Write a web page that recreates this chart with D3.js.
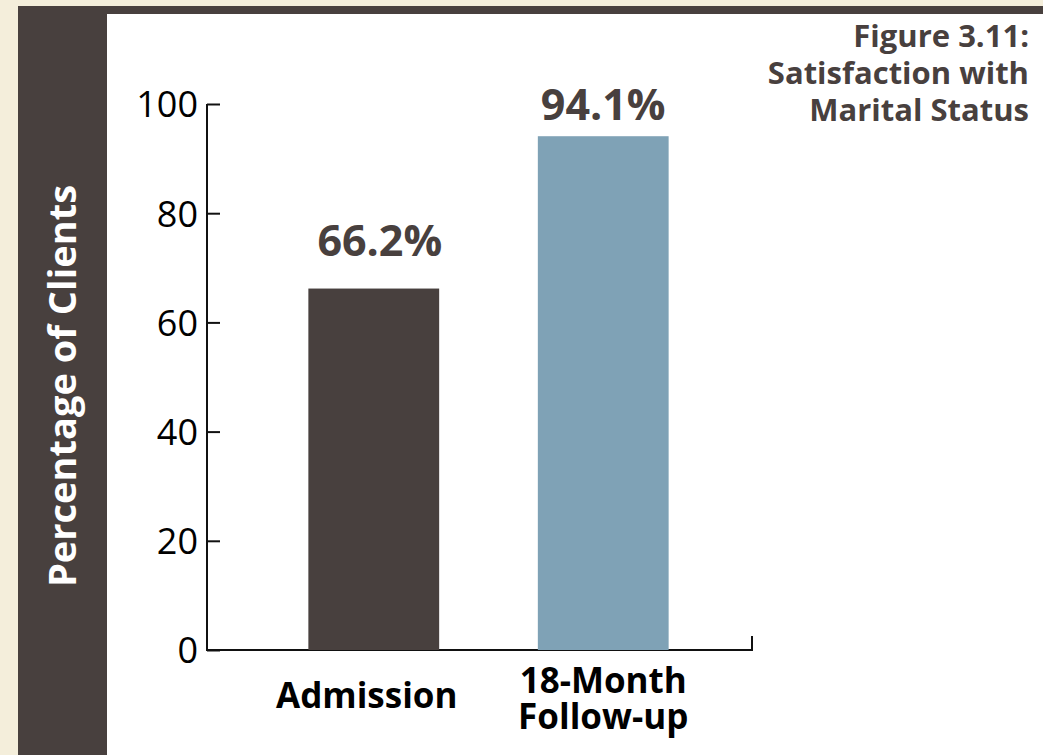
<!DOCTYPE html>
<html>
<head>
<meta charset="utf-8">
<script src="https://cdn.jsdelivr.net/npm/d3@7"></script>
<style>
  body { margin: 0; background: #f4eedb; }
  svg { display: block; }
</style>
</head>
<body>
<div id="chart"></div>
<script>
// chart data
var categories = ['Admission', '18-Month Follow-up'];
var category_lines = [['Admission'], ['18-Month', 'Follow-up']];
var values = [66.2, 94.1];
var value_labels = ['66.2%', '94.1%'];
var y_ticks = [0, 20, 40, 60, 80, 100];
var title_lines = ['Figure 3.11:', 'Satisfaction with', 'Marital Status'];
var y_title = 'Percentage of Clients';

var W = 1043, H = 755;
var dark = '#48403e', blue = '#7fa2b6', beige = '#f4eedb';
var font = "'Open Sans', sans-serif";

var svg = d3.select('#chart').append('svg')
  .attr('width', W)
  .attr('height', H);

// page frame
svg.append('rect').attr('width', W).attr('height', H).attr('fill', beige);
svg.append('rect').attr('x', 18).attr('y', 6).attr('width', 89).attr('height', H - 6).attr('fill', dark);
svg.append('rect').attr('x', 107).attr('y', 6).attr('width', W - 107).attr('height', 8).attr('fill', dark);
svg.append('rect').attr('x', 107).attr('y', 14).attr('width', W - 107).attr('height', H - 14).attr('fill', '#fff');

// rotated axis title
svg.append('text')
  .attr('transform', 'translate(76,386) rotate(-90)')
  .attr('text-anchor', 'middle')
  .attr('font-family', font)
  .attr('font-weight', 700)
  .attr('font-size', 38)
  .attr('fill', '#fff')
  .text(y_title);

// scales
var axis_x0 = 207, axis_x1 = 752;
var y = d3.scaleLinear().domain([0, 100]).range([650, 104]);
var x = d3.scaleBand().domain(categories).range([251, 726]).paddingInner(0.43).paddingOuter(0.25);

// y axis, ticks point inward
var y_axis = svg.append('g')
  .attr('transform', 'translate(' + axis_x0 + ',0)')
  .call(d3.axisLeft(y).tickValues(y_ticks).tickSize(-13).tickPadding(9).tickSizeOuter(0));
y_axis.select('.domain').remove();
y_axis.selectAll('line').attr('stroke', '#111').attr('stroke-width', 2);
y_axis.selectAll('text')
  .attr('font-family', font)
  .attr('font-size', 36)
  .attr('fill', '#000')
  .attr('dy', '0.36em');

// axis lines
svg.append('line')
  .attr('x1', axis_x0).attr('x2', axis_x0)
  .attr('y1', y(100)).attr('y2', y(0) + 1)
  .attr('stroke', '#111').attr('stroke-width', 2);
svg.append('path')
  .attr('d', 'M' + axis_x0 + ',' + y(0) + 'H' + axis_x1 + 'V' + (y(0) - 14))
  .attr('fill', 'none')
  .attr('stroke', '#111').attr('stroke-width', 2);

// bars
svg.selectAll('.bar')
  .data(values)
  .enter().append('rect')
  .attr('class', 'bar')
  .attr('x', function(d, i) { return x(categories[i]); })
  .attr('width', x.bandwidth())
  .attr('y', function(d) { return y(d); })
  .attr('height', function(d) { return y(0) - y(d); })
  .attr('fill', function(d, i) { return i === 0 ? dark : blue; });

// value labels
svg.selectAll('.val')
  .data(values)
  .enter().append('text')
  .attr('class', 'val')
  .attr('x', function(d, i) { return x(categories[i]) + x.bandwidth() / 2 + (i === 0 ? 6 : 0); })
  .attr('y', function(d, i) { return y(d) - (i === 0 ? 33 : 16); })
  .attr('text-anchor', 'middle')
  .attr('font-family', font)
  .attr('font-weight', 700)
  .attr('font-size', 43)
  .attr('fill', dark)
  .text(function(d, i) { return value_labels[i]; });

// category labels
category_lines.forEach(function(lines, i) {
  var cx = x(categories[i]) + x.bandwidth() / 2 - (i === 0 ? 7 : 0);
  var t = svg.append('text')
    .attr('text-anchor', 'middle')
    .attr('font-family', font)
    .attr('font-weight', 700)
    .attr('font-size', 35)
    .attr('fill', '#000');
  var base = lines.length === 1 ? 708 : 693;
  lines.forEach(function(s, j) {
    t.append('tspan').attr('x', cx).attr('y', base + j * 36).text(s);
  });
});

// figure title
var title = svg.append('text')
  .attr('text-anchor', 'end')
  .attr('font-family', font)
  .attr('font-weight', 700)
  .attr('font-size', 31)
  .attr('fill', dark);
title_lines.forEach(function(s, j) {
  title.append('tspan').attr('x', 1029).attr('y', 47 + j * 37).text(s);
});
</script>
</body>
</html>
